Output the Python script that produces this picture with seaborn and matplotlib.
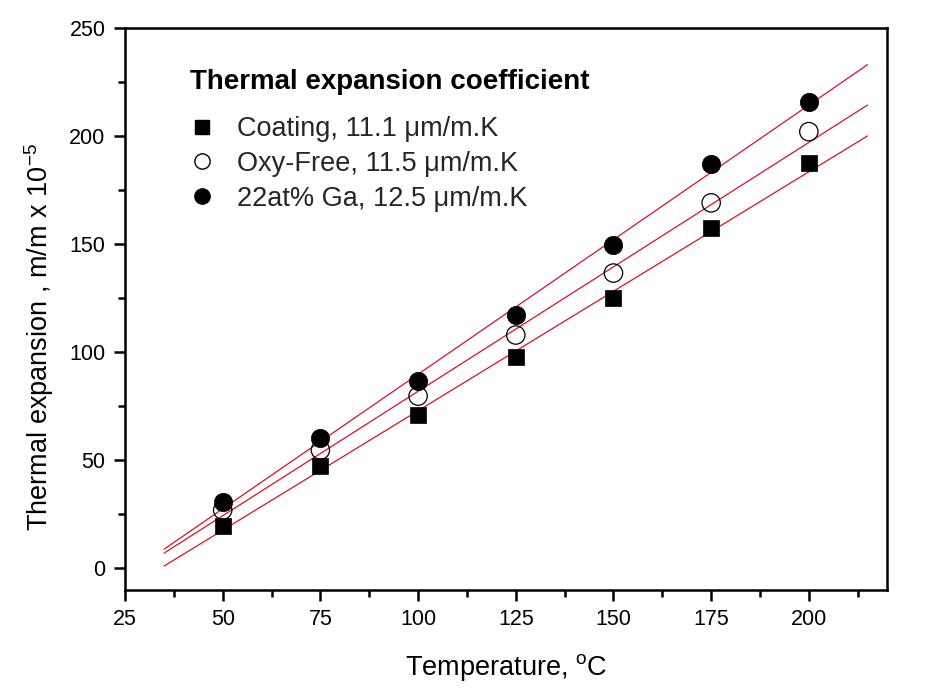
import numpy as np
import pandas as pd
import matplotlib
matplotlib.use('Agg')
import matplotlib.pyplot as plt
from matplotlib.lines import Line2D
from matplotlib.ticker import MultipleLocator
import seaborn as sns

# data
temperature = [50, 75, 100, 125, 150, 175, 200]
coating = [19.3, 47.0, 70.8, 97.6, 125.0, 157.4, 187.5]
oxy_free = [26.7, 54.5, 79.5, 107.8, 136.5, 169.0, 202.0]
ga22 = [30.4, 60.0, 86.5, 117.0, 149.5, 187.0, 215.5]

# linear fit lines (end points)
fit_x = [35, 215]
fit_coating = [0.8, 200.0]
fit_oxy = [6.8, 214.3]
fit_ga = [8.6, 233.0]

labels = ['Coating, 11.1 \u03bcm/m.K', 'Oxy-Free, 11.5 \u03bcm/m.K', '22at% Ga, 12.5 \u03bcm/m.K']

sns.set_theme(style='ticks')
plt.rcParams['font.family'] = ['Liberation Sans', 'DejaVu Sans']
plt.rcParams['mathtext.fontset'] = 'custom'
plt.rcParams['mathtext.rm'] = 'Liberation Sans'

df = pd.DataFrame({'T': temperature, 'coating': coating, 'oxy': oxy_free, 'ga': ga22})
fits = pd.DataFrame({'T': fit_x, 'coating': fit_coating, 'oxy': fit_oxy, 'ga': fit_ga})

fig = plt.figure(figsize=(9.38, 7.0), dpi=100)
ax = fig.add_axes([125 / 938, 1 - 590 / 700, (887 - 125) / 938, (590 - 28) / 700])

for col in ['coating', 'oxy', 'ga']:
    sns.lineplot(data=fits, x='T', y=col, ax=ax, color='#e01020', linewidth=0.9, zorder=3)

sns.scatterplot(data=df, x='T', y='coating', ax=ax, marker='s', s=140,
                color='black', edgecolor='black', linewidth=0.5, zorder=4)
sns.scatterplot(data=df, x='T', y='oxy', ax=ax, marker='o', s=175,
                facecolor='none', edgecolor='black', linewidth=0.9, zorder=4)
sns.scatterplot(data=df, x='T', y='ga', ax=ax, marker='o', s=175,
                color='black', edgecolor='black', linewidth=0.5, zorder=5)

ax.set_xlim(25, 220)
ax.set_ylim(-10.3, 250)
ax.xaxis.set_major_locator(MultipleLocator(25))
ax.xaxis.set_minor_locator(MultipleLocator(12.5))
ax.yaxis.set_major_locator(MultipleLocator(50))
ax.yaxis.set_minor_locator(MultipleLocator(25))
ax.tick_params(which='major', direction='out', length=8, width=1.8, labelsize=15.5,
               color='black', labelcolor='black', pad=6)
ax.tick_params(which='minor', direction='out', length=5, width=1.8, color='black')
for sp in ax.spines.values():
    sp.set_visible(True)
    sp.set_linewidth(1.8)
    sp.set_color('black')

ax.set_xlabel('Temperature, $^{\\mathregular{o}}$C', fontsize=19.5, color='black')
ax.set_ylabel('Thermal expansion , m/m x 10$^{\\mathregular{-5}}$', fontsize=19.5, color='black')
ax.xaxis.set_label_coords(0.5, -0.11)
ax.yaxis.set_label_coords(-0.09, 0.45)

# legend title as its own text, entries below
fig.text(190 / 938, 1 - 82 / 700, 'Thermal expansion coefficient', fontsize=20,
         fontweight='bold', color='black', va='center', ha='left')
handles = [
    Line2D([], [], linestyle='none', marker='s', markersize=10, color='black'),
    Line2D([], [], linestyle='none', marker='o', markersize=11, markerfacecolor='white',
           markeredgecolor='black', markeredgewidth=1.0),
    Line2D([], [], linestyle='none', marker='o', markersize=11, color='black'),
]
leg = ax.legend(handles, labels, frameon=False, loc='upper left',
                bbox_to_anchor=((180 - 125) / 762, (590 - 116) / 562), fontsize=19.5,
                handletextpad=0.5, handlelength=1.6, labelspacing=0.33, borderaxespad=0.0,
                borderpad=0.0)

fig.savefig('out.png', dpi=100)
